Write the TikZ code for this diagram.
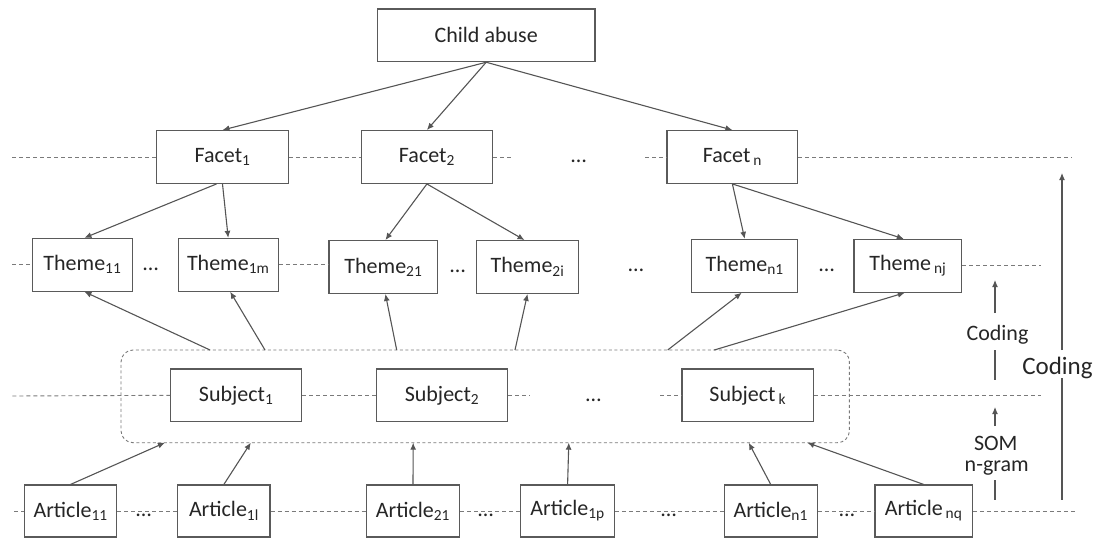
\documentclass[tikz,border=0pt]{standalone}
\usepackage{fontspec}
\setmainfont{Carlito}
\usetikzlibrary{arrows.meta}
\definecolor{boxc}{HTML}{5A5A5A}
\definecolor{arrc}{HTML}{555555}
\definecolor{dashc}{HTML}{7A7A7A}
\definecolor{txtc}{HTML}{262626}
\begin{document}
\begin{tikzpicture}[x=1pt,y=-1pt,
  bx/.style={draw=boxc,line width=1.2pt,fill=white,inner sep=0pt,minimum height=52.7pt,font=\fontsize{22}{26}\selectfont,text=txtc},
  arr/.style={draw=arrc,line width=1.1pt,-{Latex[length=7pt,width=6pt]}},
  plain/.style={draw=arrc,line width=1.1pt},
  dl/.style={draw=dashc,line width=0.9pt,dash pattern=on 4pt off 3pt},
  dots/.style={anchor=base,font=\fontsize{22}{26}\selectfont,text=txtc,inner sep=0pt},
  lbl/.style={font=\fontsize{22}{26}\selectfont,text=txtc,inner sep=0pt}]
\useasboundingbox (0,0) rectangle (1096,538);

% container of subjects
\node[draw=dashc,line width=0.9pt,dash pattern=on 3pt off 2.5pt,rounded corners=12pt,
      minimum width=728.4pt,minimum height=92.7pt,inner sep=0pt] (cont) at (485.2,396.35) {};

% top
\node[bx,minimum width=217.7pt] (ca) at (486.2,35.3) {Child abuse};

% facets
\node[bx,minimum width=131.5pt] (f1) at (222.5,157) {Facet\textsubscript{1}};
\node[bx,minimum width=131.2pt] (f2) at (426.9,157) {Facet\textsubscript{2}};
\node[bx,minimum width=130.8pt] (fn) at (732.4,157) {Facet\hspace{3pt}\textsubscript{n}};
\node[dots] (fd) at (578.6,162.5) {…};

% themes
\node[bx,minimum width=99.6pt]  (t11) at (82.4,264.8)  {Theme\textsubscript{11}};
\node[bx,minimum width=100pt]   (t1m) at (228.2,264.8) {Theme\textsubscript{1m}};
\node[bx,minimum width=108.7pt] (t21) at (383.4,267)   {Theme\textsubscript{21}};
\node[bx,minimum width=102.3pt] (t2i) at (527.5,267)   {Theme\textsubscript{2i}};
\node[bx,minimum width=106.2pt] (tn1) at (744.7,265.8) {Theme\textsubscript{n1}};
\node[bx,minimum width=107.6pt] (tnj) at (907.8,265.8) {Theme\hspace{3pt}\textsubscript{nj}};
\node[dots] (td1) at (150.8,270.5) {…};
\node[dots] (td2) at (457.7,272.5) {…};
\node[dots] (td3) at (636,271.5)   {…};
\node[dots] (td4) at (826.6,271.5) {…};

% subjects
\node[bx,minimum width=130.8pt] (s1) at (236.2,395.3) {Subject\textsubscript{1}};
\node[bx,minimum width=131pt]   (s2) at (442,395.3)   {Subject\textsubscript{2}};
\node[bx,minimum width=131.3pt] (sk) at (747.7,395.3) {Subject\hspace{3pt}\textsubscript{k}};
\node[dots] (sd) at (593.4,401) {…};

% articles
\node[bx,minimum width=92.3pt,minimum height=52pt] (a11) at (70.6,511)  {Article\textsubscript{11}};
\node[bx,minimum width=92.2pt,minimum height=52pt] (a1l) at (223.9,511) {Article\textsubscript{1l}};
\node[bx,minimum width=93pt,minimum height=52pt]   (a21) at (413,511)   {Article\textsubscript{21}};
\node[bx,minimum width=93.5pt,minimum height=52pt] (a1p) at (567.6,511) {Article\textsubscript{1p}};
\node[bx,minimum width=93pt,minimum height=52pt]   (an1) at (770.7,511) {Article\textsubscript{n1}};
\node[bx,minimum width=97.2pt,minimum height=52pt] (anq) at (923.6,511) {Article\hspace{3pt}\textsubscript{nq}};
\node[dots] (ad1) at (143.8,516) {…};
\node[dots] (ad2) at (485.8,516) {…};
\node[dots] (ad3) at (668.8,516) {…};
\node[dots] (ad4) at (847,516)   {…};

% dashed level lines
\draw[dl] (12.3,157) -- (f1.west);
\draw[dl] (f1.east) -- (f2.west);
\draw[dl] (f2.east) -- (512,157);
\draw[dl] (645,157) -- (fn.west);
\draw[dl] (fn.east) -- (1072,157);

\draw[dl] (12.3,264.8) -- (t11.west);
\draw[dl] (t1m.east) -- (t1m.east -| t21.west);
\draw[dl] (tnj.east) -- (1040.6,265.8);

\draw[dl] (12.3,396) -- (s1.west);
\draw[dl] (s1.east) -- (s2.west);
\draw[dl] (s2.east) -- (529.6,395.3);
\draw[dl] (660,395.3) -- (sk.west);
\draw[dl] (sk.east) -- (1040.6,395.3);

\draw[dl] (14,511) -- (a11.west);
\draw[dl] (a11.east) -- (a1l.west);
\draw[dl] (a1l.east) -- (a21.west);
\draw[dl] (a21.east) -- (a1p.west);
\draw[dl] (a1p.east) -- (an1.west);
\draw[dl] (an1.east) -- (anq.west);
\draw[dl] (anq.east) -- (1075.6,511);

% top arrows
\draw[arr] (ca.south) -- (f1.north);
\draw[arr] (ca.south) -- (f2.north);
\draw[arr] (ca.south) -- (fn.north);

\draw[arr] ([xshift=-6pt]f1.south) -- ([xshift=2pt]t11.north);
\draw[arr] (f1.south) -- (t1m.north);
\draw[arr] (f2.south) -- ([xshift=2pt]t21.north);
\draw[arr] (f2.south) -- ([xshift=-3pt]t2i.north);
\draw[arr] (fn.south) -- (tn1.north);
\draw[arr] (fn.south) -- ([xshift=-4pt]tnj.north);

% container to themes
\coordinate (c1) at (210,350);
\coordinate (c2) at (265,350);
\coordinate (c3) at (396.7,350);
\coordinate (c4) at (515,350);
\coordinate (c5) at (667.7,350);
\coordinate (c6) at (714.3,350);
\draw[arr] (c1) -- ([xshift=2pt]t11.south);
\draw[arr] (c2) -- ([xshift=2pt]t1m.south);
\draw[arr] (c3) -- ([xshift=2pt]t21.south);
\draw[arr] (c4) -- (t2i.south);
\draw[arr] (c5) -- ([xshift=-3pt]tn1.south);
\draw[arr] (c6) -- ([xshift=-3pt]tnj.south);

% articles to container
\coordinate (b1) at (164.9,442.7);
\coordinate (b2) at (250.8,442.7);
\coordinate (b3) at (413.2,442.7);
\coordinate (b4) at (568.8,442.7);
\coordinate (b5) at (748.7,442.7);
\coordinate (b6) at (807.3,442.7);
\draw[arr] (a11.north) -- (b1);
\draw[arr] (a1l.north) -- (b2);
\draw[arr] (a21.north) -- (b3);
\draw[arr] (a1p.north) -- (b4);
\draw[arr] (an1.north) -- (b5);
\draw[arr] (anq.north) -- (b6);

% right side labels
\node[lbl] (cd1) at (997.5,335) {Coding};
\node[lbl] (som) at (995.8,443) {SOM};
\node[lbl] (ngr) at (996.7,468) {n-gram};
\node[lbl,font=\fontsize{25}{30}\selectfont] (cd2) at (1057.5,368) {Coding};

\coordinate (r1a) at (995,313);
\coordinate (r1b) at (995,280);
\coordinate (r2a) at (995,350);
\coordinate (r2b) at (995,380);
\coordinate (r3a) at (995,426);
\coordinate (r3b) at (995,407);
\coordinate (r4a) at (995,480);
\coordinate (r4b) at (995,500);
\draw[arr] (r1a) -- (r1b);
\draw[plain] (r2a) -- (r2b);
\draw[arr] (r3a) -- (r3b);
\draw[plain] (r4a) -- (r4b);

\coordinate (q1a) at (1062,350);
\coordinate (q1b) at (1062,173);
\coordinate (q2a) at (1062,378);
\coordinate (q2b) at (1062,500);
\draw[arr] (q1a) -- (q1b);
\draw[plain] (q2a) -- (q2b);
\end{tikzpicture}
\end{document}
